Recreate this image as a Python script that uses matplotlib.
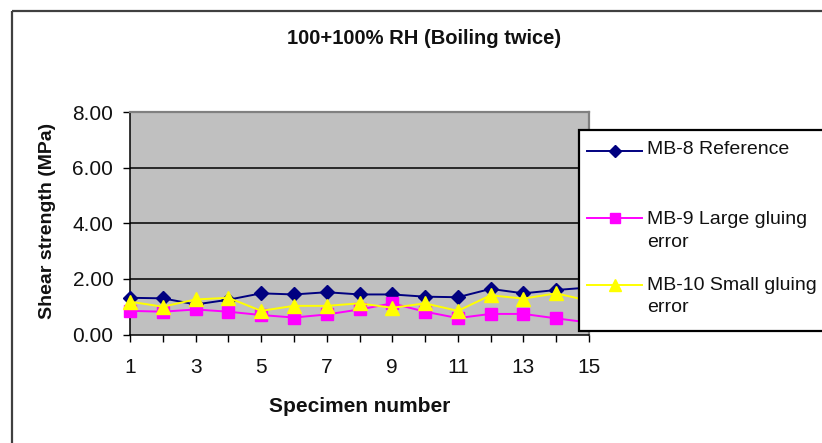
import matplotlib
matplotlib.use('Agg')
import matplotlib.pyplot as plt
from matplotlib.lines import Line2D
from matplotlib.patches import Rectangle

# ---- data ----
specimens = list(range(1, 16))
mb8 = [1.32, 1.30, 1.08, 1.25, 1.48, 1.44, 1.52, 1.44, 1.44, 1.36, 1.34, 1.64, 1.48, 1.60, 1.69]
mb9 = [0.85, 0.82, 0.90, 0.82, 0.70, 0.61, 0.72, 0.90, 1.12, 0.82, 0.59, 0.74, 0.74, 0.58, 0.43]
mb10 = [1.18, 1.00, 1.26, 1.32, 0.85, 1.03, 1.03, 1.12, 0.96, 1.12, 0.85, 1.41, 1.29, 1.48, 1.21]
series_labels = ['MB-8 Reference', 'MB-9 Large gluing\nerror', 'MB-10 Small gluing\nerror']
y_ticks = [0, 2, 4, 6, 8]
x_tick_labels = ['1', '', '3', '', '5', '', '7', '', '9', '', '11', '', '13', '', '15']
title = '100+100% RH (Boiling twice)'
x_label = 'Specimen number'
y_label = 'Shear strength (MPa)'

plt.rcParams['font.family'] = ['Liberation Sans', 'DejaVu Sans']

W, H = 822, 443
fig = plt.figure(figsize=(W / 100, H / 100), dpi=100)
fig.patch.set_facecolor('white')

# background overlay (pixel coordinates)
bg = fig.add_axes([0, 0, 1, 1], label='bg')
bg.set_xlim(0, W)
bg.set_ylim(H, 0)
bg.axis('off')
bg.add_patch(Rectangle((11.5, 10.5), 900, 500, fill=False, edgecolor='#404040', lw=1.6))
bg.text(424, 38, title, ha='center', va='center', fontsize=14.5, fontweight='bold', color='#111111')

# main plot
x0, x1, yb, yt = 130, 589, 334.5, 112
ax = fig.add_axes([x0 / W, 1 - yb / H, (x1 - x0) / W, (yb - yt) / H])
ax.set_facecolor('#C0C0C0')
ax.set_xlim(1, 15)
ax.set_ylim(0, 8)
for yv in y_ticks[1:]:
    ax.axhline(yv, color='black', lw=1.1, zorder=1)

colors = ['#000080', '#FF00FF', '#FFFF00']
markers = ['D', 's', '^']
msizes = [7, 8.5, 10]
for vals, c, m, ms, lab in zip([mb8, mb9, mb10], colors, markers, msizes, series_labels):
    ax.plot(specimens, vals, color=c, marker=m, markersize=ms, markeredgecolor=c,
            markerfacecolor=c, lw=1.4, label=lab, clip_on=False, zorder=3)

ax.set_yticks(y_ticks)
ax.set_yticklabels([f'{v:.2f}' for v in y_ticks])
ax.set_xticks(specimens)
ax.set_xticklabels(x_tick_labels)
ax.tick_params(axis='both', direction='out', length=5, width=1, color='black', labelsize=15, labelcolor='#111111')
ax.tick_params(axis='x', pad=12)
ax.tick_params(axis='y', pad=7)
for s in ['left', 'bottom']:
    ax.spines[s].set_color('black')
    ax.spines[s].set_linewidth(1.1)
for s in ['top', 'right']:
    ax.spines[s].set_color('#808080')
    ax.spines[s].set_linewidth(1.6)

ax.set_xlabel(x_label, fontsize=15, fontweight='bold', va='center', color='#111111')
ax.xaxis.set_label_coords((360 - x0) / (x1 - x0), (yb - 406) / (yb - yt))
ax.set_ylabel(y_label, fontsize=14, fontweight='bold', va='center', color='#111111')
ax.yaxis.set_label_coords((48 - x0) / (x1 - x0), (yb - 221) / (yb - yt))

# legend overlay (pixel coordinates)
lg = fig.add_axes([0, 0, 1, 1], label='legend')
lg.set_xlim(0, W)
lg.set_ylim(H, 0)
lg.axis('off')
lg.add_patch(Rectangle((579, 130), 300, 201, facecolor='white', edgecolor='black', lw=1.6))
handle_y = [151, 218, 285]
text_y = [150, 231, 296.5]
for c, m, ms, lab, hy, ty in zip(colors, markers, msizes, series_labels, handle_y, text_y):
    lg.add_line(Line2D([587, 642], [hy, hy], color=c, lw=1.4))
    lg.add_line(Line2D([614.5], [hy], color=c, marker=m, markersize=ms * 0.9, markeredgecolor=c,
                       markerfacecolor=c, lw=0))
    lg.text(647, ty, lab, ha='left', va='center', fontsize=14, linespacing=1.42, color='#111111')

fig.savefig('out.png', dpi=100)
